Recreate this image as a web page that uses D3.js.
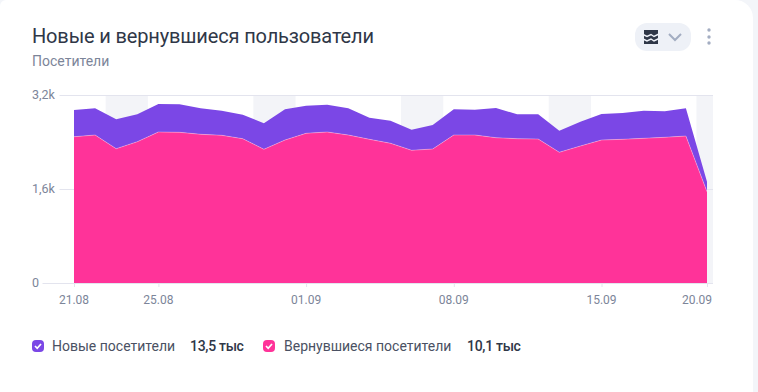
<!DOCTYPE html>
<html><head><meta charset="utf-8">
<script src="https://cdn.jsdelivr.net/npm/d3@7"></script>
<style>
html,body{margin:0;padding:0;background:#f3f5f9;overflow:hidden}
svg{display:block}
text{font-family:Roboto,"Noto Sans",sans-serif}
</style></head><body><svg id="c" width="758" height="392"></svg>
<script>
const returningUsers = [2490,2519,2286,2405,2570,2565,2531,2514,2456,2276,2434,2548,2570,2519,2446,2378,2259,2281,2519,2519,2473,2456,2451,2225,2332,2434,2446,2463,2480,2502,1554];
const totalUsers = [2945,2974,2786,2871,3047,3042,2974,2933,2865,2718,2957,3018,3035,2974,2814,2763,2609,2689,2957,2950,2979,2871,2871,2592,2746,2877,2894,2933,2923,2974,1724];
const yTicks = [0,1600,3200];
const yTickLabels = ["0","1,6k","3,2k"];
const xTickDays = [0,4,11,18,25,30];
const xTickLabels = ["21.08","25.08","01.09","08.09","15.09","20.09"];
const weekendDays = [2,9,16,23,30];
const legendNames = ["Новые посетители","Вернувшиеся посетители"];
const legendTotals = ["13,5 тыс","10,1 тыс"];
const legendColors = ["#7b47e6","#ff3399"];

const svg = d3.select("#c");
const ink="#2f3747", muted="#7c8599", grid="#e3e4ee";
svg.append("path").attr("fill","#fff")
  .attr("d","M6 0H735A18 18 0 0 1 753 18V392H0V6A6 6 0 0 1 6 0Z");

const x = d3.scaleLinear().domain([0,30]).range([74,707]);
const y = d3.scaleLinear().domain([0,3200]).range([283,95]);
const xEnd = x.invert(713);

svg.append("g").selectAll("rect").data(weekendDays).join("rect")
  .attr("x",d=>x(d-0.5)).attr("width",d=>x(Math.min(d+1.5,xEnd))-x(d-0.5))
  .attr("y",y(3200)).attr("height",y(0)-y(3200)).attr("fill","#f3f4f8");

const yLabelWidth=[6,23,23];
svg.append("g").selectAll("line").data(yTicks).join("line")
  .attr("x1",(d,i)=>32+yLabelWidth[i]+4.5).attr("x2",713)
  .attr("y1",d=>y(d)+.5).attr("y2",d=>y(d)+.5).attr("stroke",grid);
svg.append("g").selectAll("text").data(yTicks).join("text")
  .attr("x",32).attr("y",d=>y(d)+4).attr("font-size",12.5).attr("fill",muted)
  .text((d,i)=>yTickLabels[i]);

const idx=d3.range(returningUsers.length);
const topArea=d3.area().x(i=>x(i)).y0(i=>y(returningUsers[i])).y1(i=>y(totalUsers[i]));
const botArea=d3.area().x(i=>x(i)).y0(y(0)).y1(i=>y(returningUsers[i]));
svg.append("path").attr("d",topArea(idx)).attr("fill",legendColors[0]);
svg.append("path").attr("d",botArea(idx)).attr("fill",legendColors[1]);
svg.append("path").attr("d",d3.line().x(i=>x(i)).y(i=>y(returningUsers[i]))(idx))
  .attr("fill","none").attr("stroke","#fff").attr("stroke-opacity",.3);

const ax=svg.append("g");
ax.selectAll("line").data(xTickDays).join("line")
  .attr("x1",d=>x(d)+.5).attr("x2",d=>x(d)+.5).attr("y1",284).attr("y2",287).attr("stroke",grid);
ax.selectAll("text").data(xTickDays).join("text")
  .attr("x",(d,i)=>x(d)-(i==5?10:0)).attr("y",304).attr("text-anchor","middle")
  .attr("font-size",12).attr("fill",muted).text((d,i)=>xTickLabels[i]);

svg.append("text").attr("x",32).attr("y",43).attr("font-size",20).attr("letter-spacing",-0.15).attr("fill",ink).text("Новые и вернувшиеся пользователи");
svg.append("text").attr("x",32).attr("y",66).attr("font-size",14).attr("fill",muted).text("Посетители");

// control pill
svg.append("rect").attr("x",635).attr("y",23).attr("width",56).attr("height",28).attr("rx",12).attr("fill","#eef1f7");
svg.append("rect").attr("x",644).attr("y",30).attr("width",14).attr("height",14).attr("fill","#2f3747");
svg.append("path").attr("fill","none").attr("stroke","#eef1f7").attr("stroke-width",1.4).attr("d","M643 34.5L647 36.5 651 34.5 654 36.5 659 34M643 39L647 41 651 39 654 41 659 38.5");
svg.append("path").attr("fill","none").attr("stroke","#a3adc2").attr("stroke-width",2).attr("d","M669 34L675 40 681 34");
svg.append("g").selectAll("circle").data([30,37,43]).join("circle").attr("cx",709).attr("cy",d=>d).attr("r",1.7).attr("fill","#a3adc2");

// legend
const legendX=[[32,52,190],[263,284,467]];
legendNames.forEach((n,i)=>{
  const [a,b,c]=legendX[i];
  svg.append("rect").attr("x",a).attr("y",340).attr("width",12).attr("height",12).attr("rx",4).attr("fill",legendColors[i]);
  svg.append("path").attr("d",`M${a+3} 346L${a+5.2} 348.3 ${a+9} 344`).attr("fill","none").attr("stroke","#fff").attr("stroke-width",1.7);
  svg.append("text").attr("x",b).attr("y",351).attr("font-size",14).attr("fill","#4a5163").text(n);
  svg.append("text").attr("x",c).attr("y",351).attr("font-size",14).attr("font-weight",500).attr("letter-spacing",-0.3).attr("fill",ink).text(legendTotals[i]);
});
</script></body></html>
